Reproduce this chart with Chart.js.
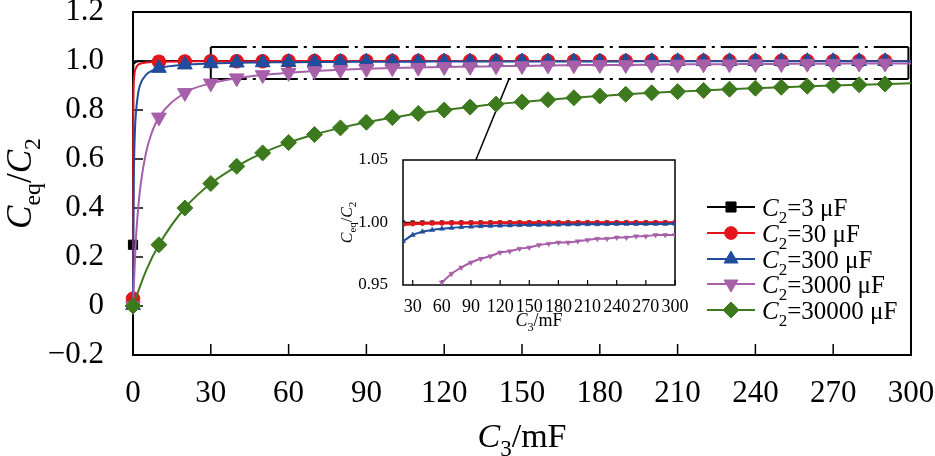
<!DOCTYPE html>
<html><head><meta charset="utf-8">
<script src="https://cdn.jsdelivr.net/npm/chart.js@4/dist/chart.umd.min.js"></script>
<style>
html,body{margin:0;padding:0;background:#fff;}
#wrap{position:relative;width:935px;height:456px;overflow:hidden;}
#main{position:absolute;left:0;top:0;}
#inset{position:absolute;left:330px;top:140px;}
</style></head><body>
<div id="wrap">
<canvas id="main" width="935" height="456" style="width:935px;height:456px"></canvas>
<canvas id="inset" width="370" height="200" style="width:370px;height:200px"></canvas>
</div>
<script>
// ---------- data ----------
const C3_marks = [0.001,10,20,30,40,50,60,70,80,90,100,110,120,130,140,150,160,170,180,190,200,210,220,230,240,250,260,270,280,290];
const ratio_3uF = [0.25,1.000,1.000,1.000,1.000,1.000,1.000,1.000,1.000,1.000,1.000,1.000,1.000,1.000,1.000,1.000,1.000,1.000,1.000,1.000,1.000,1.000,1.000,1.000,1.000,1.000,1.000,1.000,1.000,1.000];
const ratio_30uF = [0.03,0.997,0.998,0.999,0.999,0.999,1.000,1.000,1.000,1.000,1.000,1.000,1.000,1.000,1.000,1.000,1.000,1.000,1.000,1.000,1.000,1.000,1.000,1.000,1.000,1.000,1.000,1.000,1.000,1.000];
const ratio_300uF = [0.003,0.971,0.985,0.990,0.993,0.994,0.995,0.996,0.996,0.997,0.997,0.997,0.998,0.998,0.998,0.998,0.998,0.998,0.998,0.998,0.999,0.999,0.999,0.999,0.999,0.999,0.999,0.999,0.999,0.999];
const ratio_3000uF = [0.0,0.77,0.87,0.909,0.930,0.943,0.952,0.959,0.964,0.968,0.971,0.973,0.976,0.977,0.979,0.980,0.982,0.983,0.984,0.984,0.985,0.986,0.987,0.987,0.988,0.988,0.989,0.989,0.990,0.990];
const ratio_30000uF = [0.0,0.25,0.40,0.50,0.57,0.625,0.667,0.70,0.727,0.75,0.769,0.786,0.80,0.812,0.824,0.833,0.842,0.85,0.857,0.864,0.87,0.875,0.88,0.885,0.889,0.893,0.897,0.90,0.903,0.906];

// steep rise near C3 = 0 (curve only, no markers)
const rise_3uF_x = [0.05,0.3,2];        const rise_3uF_y = [0.94,0.99,0.999];
const rise_30uF_x = [0.1,0.3,0.6,1,2,4]; const rise_30uF_y = [0.77,0.91,0.95,0.968,0.985,0.992];
const rise_300uF_x = [0.3,0.7,1,2,3,5,7]; const rise_300uF_y = [0.5,0.7,0.77,0.87,0.91,0.943,0.959];
const rise_3000uF_x = [1,2,3,5,7];       const rise_3000uF_y = [0.25,0.40,0.50,0.625,0.70];
const rise_30000uF_x = [5];              const rise_30000uF_y = [0.143];
// curve end at C3 = 300
const end_x = 300;
const end_y = [1.000,1.000,0.999,0.990,0.909];

const xTickVals = [0,30,60,90,120,150,180,210,240,270,300];
const yTickVals = [-0.2,0,0.2,0.4,0.6,0.8,1.0,1.2];

const legendLabels = ['3','30','300','3000','30000'];

// inset
const inset_C3 = [20,30,40,50,60,70,80,90,100,110,120,130,140,150,160,170,180,190,200,210,220,230,240,250,260,270,280,290,300];
const inset_3uF = [1.0000,1.0000,1.0000,1.0000,1.0000,1.0000,1.0000,1.0000,1.0000,1.0000,1.0000,1.0000,1.0000,1.0000,1.0000,1.0000,1.0000,1.0000,1.0000,1.0000,1.0000,1.0000,1.0000,1.0000,1.0000,1.0000,1.0000,1.0000,1.0000];
const inset_30uF = [0.9985,0.9990,0.9993,0.9994,0.9995,0.9996,0.9996,0.9997,0.9997,0.9997,0.9998,0.9998,0.9998,0.9998,0.9998,0.9998,0.9998,0.9998,0.9999,0.9999,0.9999,0.9999,0.9999,0.9999,0.9999,0.9999,0.9999,0.9999,0.9999];
const inset_300uF = [0.985,0.990,0.9926,0.9940,0.9950,0.9957,0.9963,0.9967,0.9970,0.9973,0.9975,0.9977,0.9979,0.9980,0.9981,0.9982,0.9983,0.9984,0.9985,0.9986,0.9986,0.9987,0.9988,0.9988,0.9988,0.9989,0.9989,0.9989,0.9990];
const inset_3000uF_C3 = [60,70,80,90,100,110,120,130,140,150,160,170,180,190,200,210,220,230,240,250,260,270,280,290,300];
const inset_3000uF = [0.952,0.959,0.964,0.968,0.971,0.973,0.976,0.977,0.979,0.980,0.982,0.983,0.984,0.984,0.985,0.986,0.987,0.987,0.988,0.988,0.989,0.989,0.990,0.990,0.990];
const insetXTickVals = [30,60,90,120,150,180,210,240,270,300];
const insetYTickVals = [0.95,1.00,1.05];

// ---------- styling ----------
const FONT = '"Liberation Serif","Times New Roman",serif';
const COLORS = ['#000000','#e5141b','#1f4c9c','#a65fa8','#3d7a1e'];
const STYLES = ['rect','circle','triangle','triangleDown','diamond'];

function buildSeries(mx, my, rx, ry, ey) {
  const pts = mx.map((x,i)=>({x:x, y:my[i], m:true}));
  rx.forEach((x,i)=>pts.push({x:x, y:ry[i], m:false}));
  pts.push({x:end_x, y:ey, m:false});
  pts.sort((a,b)=>a.x-b.x);
  return pts;
}
const mainSeries = [
  buildSeries(C3_marks, ratio_3uF, rise_3uF_x, rise_3uF_y, end_y[0]),
  buildSeries(C3_marks, ratio_30uF, rise_30uF_x, rise_30uF_y, end_y[1]),
  buildSeries(C3_marks, ratio_300uF, rise_300uF_x, rise_300uF_y, end_y[2]),
  buildSeries(C3_marks, ratio_3000uF, rise_3000uF_x, rise_3000uF_y, end_y[3]),
  buildSeries(C3_marks, ratio_30000uF, rise_30000uF_x, rise_30000uF_y, end_y[4])
];

function richText(ctx, parts, x, y, size, align) {
  const pieces = parts.map(p => {
    const sub = p[1] === 's';
    const fs = sub ? size*0.68 : size;
    const font = (p[1]==='i' ? 'italic ' : '') + fs + 'px ' + FONT;
    ctx.font = font;
    return {t:p[0], font:font, w:ctx.measureText(p[0]).width, dy: sub ? size*0.26 : 0};
  });
  const total = pieces.reduce((s,p)=>s+p.w, 0);
  let cx = align === 'center' ? x - total/2 : x;
  ctx.textBaseline = 'alphabetic';
  ctx.textAlign = 'left';
  for (const p of pieces) { ctx.font = p.font; ctx.fillText(p.t, cx, y + p.dy); cx += p.w; }
}

function drawMarker(ctx, style, x, y, r, color) {
  ctx.save();
  ctx.fillStyle = color; ctx.strokeStyle = color; ctx.lineWidth = 1;
  ctx.beginPath();
  if (style === 'rect') { const s = r*0.72; ctx.rect(x-s, y-s, 2*s, 2*s); }
  else if (style === 'circle') { ctx.arc(x, y, r*0.85, 0, Math.PI*2); }
  else if (style === 'triangle') { ctx.moveTo(x, y-r); ctx.lineTo(x+r*0.87, y+r*0.5); ctx.lineTo(x-r*0.87, y+r*0.5); ctx.closePath(); }
  else if (style === 'triangleDown') { ctx.moveTo(x, y+r); ctx.lineTo(x+r*0.87, y-r*0.5); ctx.lineTo(x-r*0.87, y-r*0.5); ctx.closePath(); }
  else { ctx.moveTo(x, y-r); ctx.lineTo(x+r, y); ctx.lineTo(x, y+r); ctx.lineTo(x-r, y); ctx.closePath(); }
  ctx.fill(); ctx.stroke();
  ctx.restore();
}

function line(ctx, x1, y1, x2, y2) { ctx.beginPath(); ctx.moveTo(x1,y1); ctx.lineTo(x2,y2); ctx.stroke(); }

const pointCfg = [
  {pointStyle:'rect', r:6.5, rot:0},
  {pointStyle:'circle', r:6.8, rot:0},
  {pointStyle:'triangle', r:8.5, rot:0},
  {pointStyle:'triangle', r:8.5, rot:180},
  {pointStyle:'rectRot', r:8, rot:0}
];

// ---------- inset chart (created first so main can connect to it) ----------
const insetPlugin = {
  id: 'insetDecor',
  beforeDatasetsDraw(chart) {
    const {ctx, chartArea:a, scales:{x}} = chart;
    ctx.save();
    ctx.strokeStyle = '#000'; ctx.lineWidth = 1.5;
    ctx.strokeRect(a.left, a.top, a.right-a.left, a.bottom-a.top);
    ctx.lineWidth = 1.2;
    for (const v of insetXTickVals) { const px = x.getPixelForValue(v); line(ctx, px, a.bottom, px, a.bottom-5); }
    ctx.restore();
  },
  afterDraw(chart) {
    const {ctx, chartArea:a} = chart;
    ctx.save();
    ctx.fillStyle = '#000';
    richText(ctx, [['C','i'],['3','s'],['/mF','n']], (a.left+a.right)/2, 186, 18, 'center');
    ctx.translate(22, (a.top+a.bottom)/2);
    ctx.rotate(-Math.PI/2);
    richText(ctx, [['C','i'],['eq','s'],['/','n'],['C','i'],['2','s']], 0, 0, 16, 'center');
    ctx.restore();
  }
};

const insetSets = [
  {x:inset_C3, y:inset_3uF, i:0, r:2.6, bw:1.5},
  {x:inset_C3, y:inset_30uF, i:1, r:2.4, bw:3},
  {x:inset_C3, y:inset_300uF, i:2, r:3, bw:2},
  {x:inset_3000uF_C3, y:inset_3000uF, i:3, r:3, bw:2}
];

const insetChart = new Chart(document.getElementById('inset'), {
  type: 'line',
  data: {
    datasets: insetSets.map(s => ({
      data: s.x.map((v,k)=>({x:v, y:s.y[k]})),
      borderColor: COLORS[s.i], backgroundColor: COLORS[s.i],
      borderWidth: s.bw,
      pointStyle: pointCfg[s.i].pointStyle, pointRotation: pointCfg[s.i].rot,
      pointRadius: s.r, pointBorderWidth: 0.5,
      cubicInterpolationMode: 'monotone',
      order: 10 - s.i
    }))
  },
  options: {
    responsive: false, animation: false, events: [],
    layout: {padding: {top: 20, right: 25, left: 0, bottom: 0}},
    plugins: {legend: {display: false}, tooltip: {enabled: false}},
    scales: {
      x: {
        type: 'linear', min: 20, max: 300,
        grid: {display: false}, border: {display: false},
        afterBuildTicks: s => { s.ticks = insetXTickVals.map(v=>({value:v})); },
        afterFit: s => { s.height = 55; s.paddingLeft = 0; s.paddingRight = 0; },
        ticks: {autoSkip: false, maxRotation: 0, padding: 3, color: '#000', font: {family: FONT, size: 18}}
      },
      y: {
        type: 'linear', min: 0.95, max: 1.05,
        grid: {display: false}, border: {display: false},
        afterBuildTicks: s => { s.ticks = insetYTickVals.map(v=>({value:v})); },
        afterFit: s => { s.width = 73; s.paddingTop = 0; s.paddingBottom = 0; },
        ticks: {padding: 7, color: '#000', font: {family: FONT, size: 17}, callback: v => Number(v).toFixed(2)}
      }
    }
  },
  plugins: [insetPlugin]
});

// ---------- main chart ----------
const zoomBox = {x0: 30, x1: 299, y0: 0.927, y1: 1.057};
const connectMain = {x: 145, y: 0.927};
const connectInset = {x: 95};

const mainPlugin = {
  id: 'mainDecor',
  beforeDatasetsDraw(chart) {
    const {ctx, chartArea:a, scales:{x, y}} = chart;
    ctx.save();
    ctx.strokeStyle = '#000';
    ctx.lineWidth = 2;
    ctx.strokeRect(a.left, a.top, a.right-a.left, a.bottom-a.top);
    ctx.lineWidth = 1.5;
    for (const v of xTickVals) { const px = x.getPixelForValue(v); line(ctx, px, a.bottom, px, a.bottom-11); }
    for (const v of yTickVals) { const py = y.getPixelForValue(v); line(ctx, a.left, py, a.left+10, py); }
    // zoom box
    const bx0 = x.getPixelForValue(zoomBox.x0), bx1 = x.getPixelForValue(zoomBox.x1);
    const by0 = y.getPixelForValue(zoomBox.y0), by1 = y.getPixelForValue(zoomBox.y1);
    ctx.lineWidth = 2;
    line(ctx, bx0, by1, bx0, by0);
    line(ctx, bx1, by1, bx1, by0);
    ctx.setLineDash([36,6,3,6]);
    line(ctx, bx0, by1, bx1, by1);
    line(ctx, bx0, by0, bx1, by0);
    ctx.setLineDash([]);
    // connector to inset
    const ic = insetChart;
    const cv = ic.canvas;
    const tx = cv.offsetLeft + ic.scales.x.getPixelForValue(connectInset.x);
    const ty = cv.offsetTop + ic.chartArea.top;
    ctx.lineWidth = 1.5;
    line(ctx, x.getPixelForValue(connectMain.x), y.getPixelForValue(connectMain.y), tx, ty);
    ctx.restore();
  },
  afterDraw(chart) {
    const {ctx, chartArea:a} = chart;
    ctx.save();
    ctx.fillStyle = '#000';
    richText(ctx, [['C','i'],['3','s'],['/mF','n']], (a.left+a.right)/2, 447, 34, 'center');
    ctx.save();
    ctx.translate(31, (a.top+a.bottom)/2);
    ctx.rotate(-Math.PI/2);
    richText(ctx, [['C','i'],['eq','s'],['/','n'],['C','i'],['2','s']], 0, 0, 35, 'center');
    ctx.restore();
    // legend
    const rowY = [207, 233, 259, 284, 310];
    const legR = [7, 7.5, 8, 8, 8];
    for (let i = 0; i < 5; i++) {
      const yy = rowY[i];
      ctx.strokeStyle = COLORS[i]; ctx.lineWidth = 2;
      line(ctx, 707, yy, 755, yy);
      drawMarker(ctx, STYLES[i], 731, yy, legR[i], COLORS[i]);
      ctx.fillStyle = '#000';
      richText(ctx, [['C','i'],['2','s'],['=' + legendLabels[i] + ' \u03bcF','n']], 762, yy + 9, 25, 'left');
    }
    ctx.restore();
  }
};

new Chart(document.getElementById('main'), {
  type: 'line',
  data: {
    datasets: mainSeries.map((pts, i) => ({
      data: pts,
      borderColor: COLORS[i], backgroundColor: COLORS[i],
      borderWidth: 2,
      pointStyle: pointCfg[i].pointStyle, pointRotation: pointCfg[i].rot,
      pointRadius: c => (c.raw && c.raw.m) ? pointCfg[i].r : 0,
      pointBorderWidth: 1,
      cubicInterpolationMode: 'monotone',
      clip: false,
      order: 10 - i
    }))
  },
  options: {
    responsive: false, animation: false, events: [],
    layout: {padding: {top: 12, right: 24, left: 0, bottom: 0}},
    plugins: {legend: {display: false}, tooltip: {enabled: false}},
    scales: {
      x: {
        type: 'linear', min: 0, max: 300,
        grid: {display: false}, border: {display: false},
        afterBuildTicks: s => { s.ticks = xTickVals.map(v=>({value:v})); },
        afterFit: s => { s.height = 101; s.paddingLeft = 0; s.paddingRight = 0; },
        ticks: {autoSkip: false, maxRotation: 0, padding: 12, color: '#000', font: {family: FONT, size: 31}}
      },
      y: {
        type: 'linear', min: -0.2, max: 1.2,
        grid: {display: false}, border: {display: false},
        afterBuildTicks: s => { s.ticks = yTickVals.map(v=>({value:v})); },
        afterFit: s => { s.width = 133; s.paddingTop = 0; s.paddingBottom = 0; },
        ticks: {padding: 21, color: '#000', font: {family: FONT, size: 31},
          callback: v => { const n = Math.round(v*10)/10; return n === 0 ? '0' : (n < 0 ? '\u2212' : '') + Math.abs(n).toFixed(1); }}
      }
    }
  },
  plugins: [mainPlugin]
});
</script>
</body></html>
